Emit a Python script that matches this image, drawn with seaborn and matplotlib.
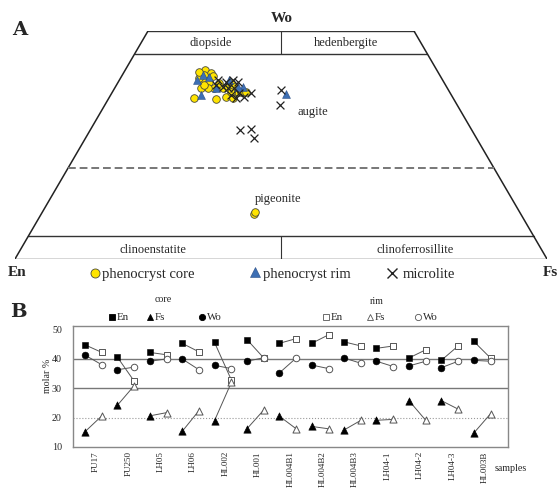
import numpy as np
import pandas as pd
import matplotlib
matplotlib.use("Agg")
import matplotlib.pyplot as plt
from matplotlib.lines import Line2D
import seaborn as sns

# ------------------------------
# Panel A data: position along En-Fs (0-100) and Wo (0-50)
# ------------------------------
pheno_core_x = [33.6, 37.7, 35.8, 36.8, 35.5, 35.3, 34.5, 36.4, 37.4, 36.2, 34.9, 39.1, 40.0,
                39.6, 40.9, 40.6, 41.1, 41.9, 42.5, 43.4, 40.6, 35.5, 38.3, 34.5, 37.2, 44.9, 45.1]
pheno_core_wo = [35.3, 35.0, 41.5, 40.8, 40.3, 39.2, 39.7, 38.8, 37.5, 37.5, 37.5, 37.5, 37.7,
                 35.5, 35.3, 38.6, 37.7, 36.6, 36.6, 36.6, 36.6, 38.1, 38.6, 41.0, 40.1, 9.8, 10.2]

pheno_rim_x = [34.3, 34.9, 35.3, 37.7, 40.2, 42.8, 50.9, 41.9, 36.4]
pheno_rim_wo = [39.2, 35.9, 40.3, 37.5, 39.2, 37.7, 36.1, 37.7, 39.9]

micro_x = [38.1, 39.1, 40.0, 40.9, 41.9, 41.1, 40.6, 41.5, 42.1, 44.3, 37.7, 39.6, 43.0,
           50.0, 49.8, 42.3, 44.3, 44.9]
micro_wo = [39.2, 37.7, 37.5, 39.2, 38.8, 37.5, 35.9, 35.3, 36.4, 36.4, 38.1, 38.8, 35.5,
            37.0, 33.7, 28.2, 28.6, 26.6]

# ------------------------------
# Panel B data: core / rim molar %
# ------------------------------
samples = ["FU17", "FU250", "LH05", "LH06", "HL002", "HL001", "HL004B1", "HL004B2",
           "HL004B3", "LH04-1", "LH04-2", "LH04-3", "HL003B"]
core_en = [44.8, 40.6, 42.2, 45.3, 45.6, 46.6, 45.3, 45.3, 45.8, 43.6, 40.3, 39.5, 46.0]
core_fs = [15.2, 24.2, 20.6, 15.3, 19.0, 16.2, 20.5, 17.0, 15.8, 19.1, 25.8, 25.8, 14.7]
core_wo = [41.3, 36.3, 39.2, 40.0, 37.8, 39.2, 35.2, 37.9, 40.3, 39.2, 37.6, 37.0, 39.5]
rim_en = [42.2, 32.4, 41.4, 42.4, 32.8, 40.3, 46.9, 48.2, 44.4, 44.4, 43.1, 44.4, 40.3]
rim_fs = [20.6, 30.9, 21.7, 22.4, 32.0, 22.6, 16.2, 16.2, 19.1, 19.4, 19.1, 22.9, 21.3]
rim_wo = [38.0, 37.2, 40.0, 36.3, 36.7, 40.4, 40.3, 36.7, 38.5, 37.4, 39.2, 39.2, 39.2]

YELLOW = "#ffe400"
BLUE = "#3d6fb4"

sns.set_theme(style="white")
plt.rcParams['font.family'] = ['Liberation Serif', 'DejaVu Serif']

W, H = 559, 490
fig = plt.figure(figsize=(W / 100, H / 100), dpi=100)


def fx(px):
    return px / W


def fy(py):
    return 1 - py / H


def fig_marker(px, py, marker, face, edge, size, mew=0.6):
    fig.add_artist(Line2D([fx(px)], [fy(py)], marker=marker, markersize=size,
                          markerfacecolor=face, markeredgecolor=edge, markeredgewidth=mew,
                          linestyle='none', transform=fig.transFigure))


# ------------------------------
# Panel A: pyroxene quadrilateral
# ------------------------------
axA = fig.add_axes([fx(15), fy(259), 532 / W, 228 / H])
k = 0.5  # side edges: x = Fs + Wo/2


def side(w):
    return k * w, 100 - k * w


for w in [0, 5, 45, 50]:
    a, b = side(w)
    axA.plot([a, b], [w, w], color="#333333", lw=1)
axA.plot([0, k * 50], [0, 50], color="#222222", lw=1.1)
axA.plot([100, 100 - k * 50], [0, 50], color="#222222", lw=1.1)
a, b = side(20)
axA.plot([a, b], [20, 20], color="#777777", lw=1.4, ls=(0, (4, 2)))
axA.plot([50, 50], [45, 50], color="#333333", lw=0.8)
axA.plot([50, 50], [0, 5], color="#333333", lw=0.8)

core_df = pd.DataFrame({"x": pheno_core_x, "wo": pheno_core_wo})
rim_df = pd.DataFrame({"x": pheno_rim_x, "wo": pheno_rim_wo})
micro_df = pd.DataFrame({"x": micro_x, "wo": micro_wo})

sns.scatterplot(data=core_df, x="x", y="wo", ax=axA, marker='o', s=30, color=YELLOW,
                edgecolor="#4a4a3a", linewidth=0.6, zorder=3)
sns.scatterplot(data=rim_df, x="x", y="wo", ax=axA, marker='^', s=32, color=BLUE,
                edgecolor="#2a4f86", linewidth=0.4, zorder=4)
sns.scatterplot(data=micro_df, x="x", y="wo", ax=axA, marker='x', s=32, color="#222222",
                linewidth=0.9, zorder=5)
axA.set_xlim(0, 100)
axA.set_ylim(0, 50)
axA.axis('off')

fig.text(fx(282), fy(18), "Wo", fontsize=11, fontweight='bold', ha='center', va='center')
fig.text(fx(211), fy(43), "diopside", fontsize=9, ha='center', va='center')
fig.text(fx(346), fy(43), "hedenbergite", fontsize=9, ha='center', va='center')
fig.text(fx(297), fy(112), "augite", fontsize=9, ha='left', va='center')
fig.text(fx(278), fy(199), "pigeonite", fontsize=9, ha='center', va='center')
fig.text(fx(153), fy(250), "clinoenstatite", fontsize=9, ha='center', va='center')
fig.text(fx(415), fy(250), "clinoferrosillite", fontsize=9, ha='center', va='center')
fig.text(fx(17), fy(273), "En", fontsize=11, fontweight='bold', ha='center', va='center')
fig.text(fx(550), fy(273), "Fs", fontsize=11, fontweight='bold', ha='center', va='center')
fig.text(fx(20), fy(30), "A", fontsize=14, fontweight='bold', family='DejaVu Serif',
         ha='center', va='center')

# legend A
fig_marker(95, 273, 'o', YELLOW, "#4a4a3a", 6.5)
fig.text(fx(102), fy(274), "phenocryst core", fontsize=10.5, ha='left', va='center')
fig_marker(255, 272, '^', BLUE, "#2a4f86", 7, mew=0.4)
fig.text(fx(263), fy(274), "phenocryst rim", fontsize=10.5, ha='left', va='center')
fig_marker(392, 273, 'x', "#222222", "#222222", 7.5, mew=1.0)
fig.text(fx(403), fy(274), "microlite", fontsize=10.5, ha='left', va='center')

# ------------------------------
# Panel B: core vs rim compositions
# ------------------------------
axB = fig.add_axes([fx(73), fy(447), 435 / W, 121 / H])
pos = np.arange(len(samples))
rim_pos = pos + 0.52

for i in range(len(samples)):
    for c, r in [(core_en, rim_en), (core_fs, rim_fs), (core_wo, rim_wo)]:
        axB.plot([pos[i], rim_pos[i]], [c[i], r[i]], color="#555555", lw=0.7, zorder=2)

core_b = pd.DataFrame({"pos": pos, "En": core_en, "Fs": core_fs, "Wo": core_wo})
rim_b = pd.DataFrame({"pos": rim_pos, "En": rim_en, "Fs": rim_fs, "Wo": rim_wo})
for col, m, s in [("En", 's', 24), ("Fs", '^', 28), ("Wo", 'o', 24)]:
    sns.scatterplot(data=core_b, x="pos", y=col, ax=axB, marker=m, s=s, color='black',
                    edgecolor='black', zorder=3)
    sns.scatterplot(data=rim_b, x="pos", y=col, ax=axB, marker=m, s=s - 2, color='white',
                    edgecolor='#555555', linewidth=0.7, zorder=3)

axB.axhline(40, color="#777777", lw=1, zorder=1)
axB.axhline(30, color="#777777", lw=1, zorder=1)
axB.axhline(20, color="#999999", lw=0.8, ls=':', zorder=1)

axB.set_xlim(-0.37, 13.06)
axB.set_ylim(10, 51.2)
axB.set_yticks([10, 20, 30, 40, 50])
axB.set_xticks(pos + 0.34)
axB.set_xticklabels(samples, rotation=90)
axB.tick_params(axis='y', length=0, labelsize=7.2, pad=8)
axB.tick_params(axis='x', length=0, labelsize=6.5, pad=3)
axB.set_xlabel("")
axB.set_ylabel("")
for sp in axB.spines.values():
    sp.set_color("#888888")
    sp.set_linewidth(1)

fig.text(fx(47), fy(376), "molar %", fontsize=7.2, rotation=90, ha='center', va='center')
fig.text(fx(495), fy(468), "samples", fontsize=7.2, ha='left', va='center')
fig.text(fx(18), fy(312), "B", fontsize=14, fontweight='bold', family='DejaVu Serif',
         ha='center', va='center')

# legend B
fig.text(fx(163), fy(300), "core", fontsize=7.2, ha='center', va='center')
fig.text(fx(377), fy(302), "rim", fontsize=7.2, ha='center', va='center')
leg = [(112, 's', 'black', 'black', "En"), (150, '^', 'black', 'black', "Fs"),
       (202, 'o', 'black', 'black', "Wo"), (326, 's', 'white', '#555555', "En"),
       (370, '^', 'white', '#555555', "Fs"), (418, 'o', 'white', '#555555', "Wo")]
for px, m, fc, ec, lab in leg:
    fig_marker(px, 317, m, fc, ec, 4.5)
    fig.text(fx(px + 5), fy(318), lab, fontsize=7.8, ha='left', va='center')

fig.savefig("out.png", dpi=100)
